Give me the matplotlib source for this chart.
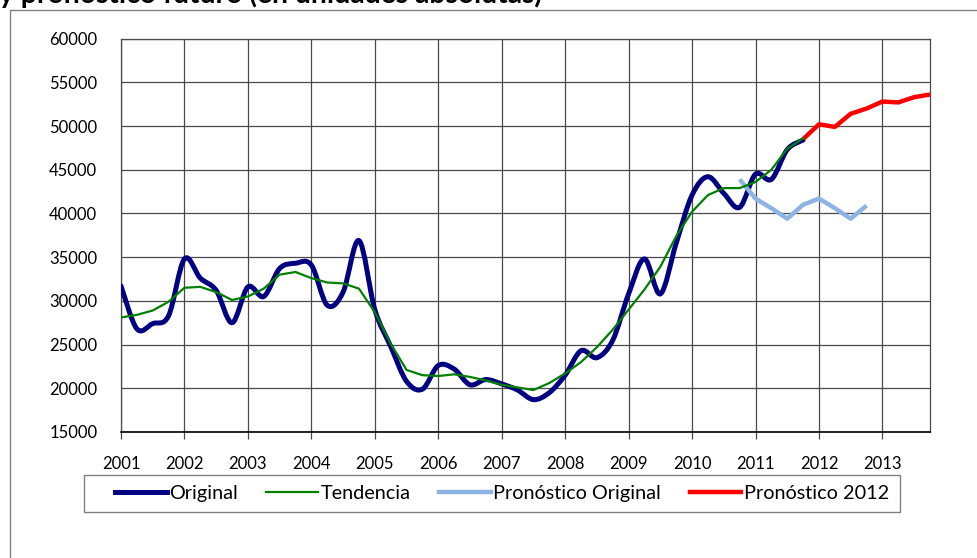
import numpy as np
import matplotlib
matplotlib.use('Agg')
import matplotlib.pyplot as plt
from matplotlib.path import Path
from matplotlib.patches import PathPatch, Rectangle
from matplotlib.lines import Line2D

plt.rcParams['font.family'] = ['Lato', 'DejaVu Sans']

# ---- data (quarterly, 2001Q1 .. 2013Q4) ----
years = ['2001', '2002', '2003', '2004', '2005', '2006', '2007',
         '2008', '2009', '2010', '2011', '2012', '2013']
n_quarters = 52

original = [31700, 26800, 27400, 28300, 34800, 32600, 31200, 27500,
            31600, 30500, 33700, 34300, 34100, 29500, 31000, 36900,
            29000, 24800, 20800, 19900, 22600, 22200, 20400, 21000,
            20500, 19800, 18700, 19500, 21500, 24300, 23500, 25500,
            30800, 34800, 30800, 36600, 42100, 44200, 42300, 40700,
            44500, 43900, 47300, 48400]

tendencia = [28100, 28400, 28900, 29900, 31500, 31600, 31000, 30100,
             30500, 31400, 33000, 33300, 32600, 32100, 32000, 31400,
             28700, 25100, 22100, 21500, 21400, 21600, 21300, 20900,
             20400, 20100, 19800, 20600, 21700, 23000, 24700, 26700,
             29000, 31300, 33900, 37400, 40200, 42100, 42900, 42900,
             43600, 45000, 47400, 48600]

pron_original_start = 39
pron_original = [43900, 41700, 40600, 39400, 41000, 41700, 40600, 39400, 40900]

pron_2012_start = 43
pron_2012 = [48500, 50200, 49900, 51400, 52000, 52800, 52700, 53300, 53600]

labels = ['Original', 'Tendencia', 'Pronóstico Original', 'Pronóstico 2012']
colors = ['#000080', '#008000', '#8EB4E3', '#FF0000']

W, H = 978, 558
fig = plt.figure(figsize=(W / 100, H / 100), dpi=100)

# outer chart frame
fig.patches.append(Rectangle((9.5 / W, -0.2), 1.2, 1.2 - 9.5 / H,
                             transform=fig.transFigure, fill=False,
                             edgecolor='#808080', linewidth=1.0))

fig.text(-1 / W, 1 - 3 / H, 'y pronóstico futuro (en unidades absolutas)',
         fontsize=20.3, fontweight='bold', ha='left', va='baseline')

ax = fig.add_axes([121 / W, 1 - 432 / H, 809 / W, (432 - 38.6) / H])


def smooth_path(xs, ys):
    xs = np.asarray(xs, float)
    ys = np.asarray(ys, float)
    n = len(xs)
    verts = [(xs[0], ys[0])]
    codes = [Path.MOVETO]
    for i in range(n - 1):
        i0 = max(i - 1, 0)
        i3 = min(i + 2, n - 1)
        c1 = (xs[i] + (xs[i + 1] - xs[i0]) / 6, ys[i] + (ys[i + 1] - ys[i0]) / 6)
        c2 = (xs[i + 1] - (xs[i3] - xs[i]) / 6, ys[i + 1] - (ys[i3] - ys[i]) / 6)
        verts += [c1, c2, (xs[i + 1], ys[i + 1])]
        codes += [Path.CURVE4] * 3
    return Path(verts, codes)


x_orig = np.arange(len(original))
ax.add_patch(PathPatch(smooth_path(x_orig, original), fill=False,
                       edgecolor=colors[0], linewidth=3.6, capstyle='round',
                       joinstyle='round', zorder=3))
ax.plot(np.arange(len(tendencia)), tendencia, color=colors[1], linewidth=1.6, zorder=4)
ax.plot(pron_original_start + np.arange(len(pron_original)), pron_original,
        color=colors[2], linewidth=3.2, solid_capstyle='butt', zorder=3)
ax.plot(pron_2012_start + np.arange(len(pron_2012)), pron_2012,
        color=colors[3], linewidth=3.2, solid_capstyle='butt', zorder=3)

ax.set_xlim(0, n_quarters - 1)
ax.set_ylim(15000, 60000)
ax.set_yticks(np.arange(15000, 60001, 5000))
ax.set_xticks(np.arange(0, n_quarters, 4))
ax.set_xticklabels(years)
ax.grid(True, color='#4a4a4a', linewidth=0.9)
ax.set_axisbelow(True)
for s in ['top', 'right', 'left']:
    ax.spines[s].set_color('#4a4a4a')
    ax.spines[s].set_linewidth(0.9)
ax.spines['bottom'].set_color('black')
ax.spines['bottom'].set_linewidth(1.2)
ax.tick_params(axis='y', length=0, pad=17, labelsize=12)
ax.tick_params(axis='x', length=5, width=0.9, color='#4a4a4a', pad=12, labelsize=12)

# legend frame
fig.patches.append(Rectangle((84 / W, 1 - 512 / H), 816 / W, 37 / H,
                             transform=fig.transFigure, fill=False,
                             edgecolor='#808080', linewidth=1.0))
handles = [Line2D([], [], color=c, linewidth=lw) for c, lw in
           zip(colors, [3.6, 1.6, 3.2, 3.2])]
leg = fig.legend(handles, labels, loc='center',
                 bbox_to_anchor=(502 / W, 1 - 493.5 / H),
                 ncol=4, fontsize=14.3, frameon=False,
                 handlelength=2.6, handletextpad=0.12, columnspacing=1.45,
                 borderpad=0.2, borderaxespad=0)

fig.savefig('out.png', dpi=100)
